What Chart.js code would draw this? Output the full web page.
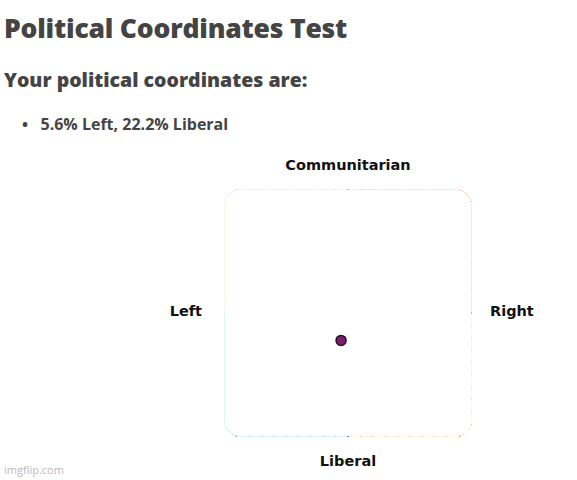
<!DOCTYPE html><html><head><meta charset="utf-8">
<script src="https://cdn.jsdelivr.net/npm/chart.js"></script>
<style>
body{margin:0;width:577px;height:480px;background:#fff;position:relative;overflow:hidden;font-family:"Open Sans",sans-serif;color:#444}
.t{position:absolute;white-space:nowrap}
.lab{position:absolute;font:bold 14.5px "DejaVu Sans";color:#111;white-space:nowrap}
</style></head><body>
<div class="t" style="left:4px;top:10px;font-size:26.5px;font-weight:800;letter-spacing:-0.2px">Political Coordinates Test</div>
<div class="t" style="left:4px;top:66px;font-size:19.5px;font-weight:800">Your political coordinates are:</div>
<div class="t" style="left:22px;top:113px;font-size:16px;font-weight:700">•&nbsp;&nbsp;&nbsp;5.6% Left, 22.2% Liberal</div>
<div class="t" style="left:4px;top:462px;font-size:11px;color:#bbb">imgflip.com</div>
<div class="lab" style="left:348px;top:157px;transform:translateX(-50%)">Communitarian</div>
<div class="lab" style="right:375px;top:303px">Left</div>
<div class="lab" style="left:490px;top:303px">Right</div>
<div class="lab" style="left:348px;top:453px;transform:translateX(-50%)">Liberal</div>
<canvas id="c" width="260" height="260" style="position:absolute;left:218px;top:183px;width:260px;height:260px"></canvas>
<script>
const economic=[-5.6];
const social=[-22.2];
const quadColors={tl:'#92d050',tr:'#ff4000',bl:'#00b0f0',br:'#ffc000'};
function rr(ctx,x,y,w,h,r){ctx.beginPath();ctx.moveTo(x+r,y);ctx.arcTo(x+w,y,x+w,y+h,r);ctx.arcTo(x+w,y+h,x,y+h,r);ctx.arcTo(x,y+h,x,y,r);ctx.arcTo(x,y,x+w,y,r);ctx.closePath();}
const bg={id:'bg',beforeDraw(c){const {ctx,chartArea:a,scales:{x,y}}=c;const cx=x.getPixelForValue(0),cy=y.getPixelForValue(0);
ctx.save();rr(ctx,a.left,a.top,a.width,a.height,16);ctx.clip();
ctx.fillStyle=quadColors.tl;ctx.fillRect(a.left,a.top,cx-a.left,cy-a.top);
ctx.fillStyle=quadColors.tr;ctx.fillRect(cx,a.top,a.right-cx,cy-a.top);
ctx.fillStyle=quadColors.bl;ctx.fillRect(a.left,cy,cx-a.left,a.bottom-cy);
ctx.fillStyle=quadColors.br;ctx.fillRect(cx,cy,a.right-cx,a.bottom-cy);ctx.restore();},
beforeDatasetsDraw(c){const {ctx,chartArea:a}=c;ctx.save();ctx.beginPath();ctx.rect(a.left-2,a.top-2,a.width+4,a.height+4);rr(ctx,a.left,a.top,a.width,a.height,16);ctx.fillStyle='#fff';ctx.fill('evenodd');ctx.restore();}};
const gridOpt={color:ctx=>ctx.tick.value===0?'#111':(Math.abs(ctx.tick.value)===100?'rgba(0,0,0,0)':'rgba(0,0,0,0.45)'),lineWidth:ctx=>ctx.tick.value===0?2:1,drawTicks:false};
new Chart(document.getElementById('c'),{type:'scatter',
data:{datasets:[{data:economic.map((v,i)=>({x:v,y:social[i]})),backgroundColor:'#7a1f6e',borderColor:'#2a0a2a',borderWidth:1.5,pointRadius:5}]},
options:{responsive:false,animation:false,devicePixelRatio:1,layout:{padding:1},
plugins:{legend:{display:false},tooltip:{enabled:false}},
scales:{x:{min:-100,max:100,ticks:{display:false,stepSize:10},grid:gridOpt,border:{display:false}},
y:{min:-100,max:100,ticks:{display:false,stepSize:10},grid:gridOpt,border:{display:false}}}},
plugins:[bg]});
</script>
</body></html>
